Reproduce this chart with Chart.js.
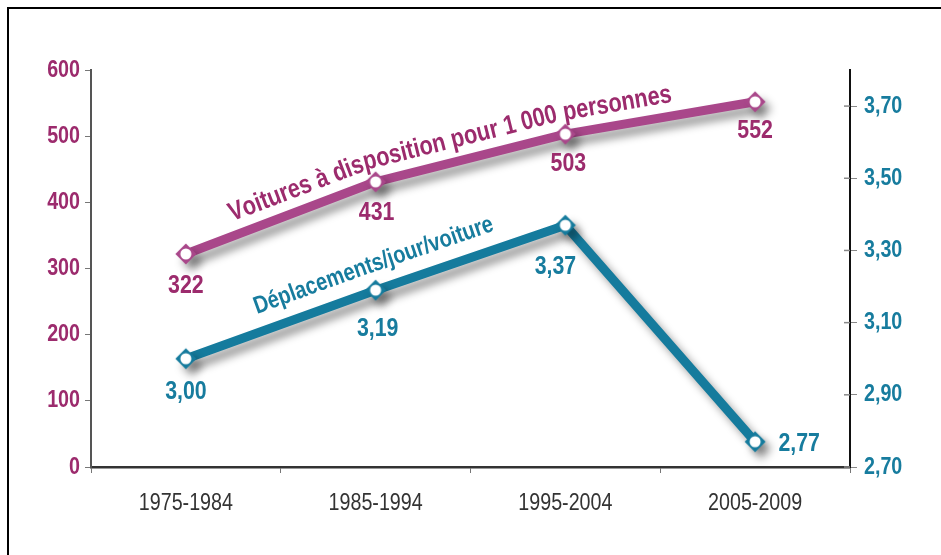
<!DOCTYPE html>
<html>
<head>
<meta charset="utf-8">
<script src="https://cdn.jsdelivr.net/npm/chart.js@4.4.1/dist/chart.umd.min.js"></script>
<style>
  body { margin: 0; background: #fff; }
  #wrap { position: relative; width: 941px; height: 555px; }
  #frame { position: absolute; left: 7px; top: 7px; right: 0; bottom: 0;
           border-top: 2px solid #000; border-left: 2px solid #000; pointer-events: none; }
</style>
</head>
<body>
<div id="wrap">
  <canvas id="chart" width="941" height="555"></canvas>
  <div id="frame"></div>
</div>
<script>
// ---------- data ----------
const categories = ["1975-1984", "1985-1994", "1995-2004", "2005-2009"];
const voitures = [322, 431, 503, 552];
const deplacements = [3.00, 3.19, 3.37, 2.77];
const seriesNames = ["Voitures à disposition pour 1 000 personnes", "Déplacements/jour/voiture"];
const leftTicks = [0, 100, 200, 300, 400, 500, 600];
const rightTicks = [2.70, 2.90, 3.10, 3.30, 3.50, 3.70];
const rightMax = 3.80;

// ---------- style ----------
// no narrow font installed: Liberation Sans squeezed horizontally
const FONT = "'Liberation Sans', Arial, sans-serif";
const SX = 0.82;
const PURPLE = "#a9478a";
const PURPLE_TXT = "#9c2b6d";
const BLUE = "#157b9d";
const BLUE_TXT = "#177c9e";
const GREY_TXT = "#333";

Chart.defaults.font.family = FONT;

function frNum(v, d) {
  return v.toFixed(d).replace(".", ",");
}

function narrowText(ctx, text, x, y, align) {
  ctx.save();
  ctx.translate(x, y);
  ctx.scale(SX, 1);
  ctx.textAlign = align;
  ctx.fillText(text, 0, 0);
  ctx.restore();
}

function makeMarker(color) {
  const c = document.createElement("canvas");
  c.width = 24; c.height = 24;
  const g = c.getContext("2d");
  g.fillStyle = color;
  g.beginPath();
  g.moveTo(12, 1.5); g.lineTo(22.5, 12); g.lineTo(12, 22.5); g.lineTo(1.5, 12);
  g.closePath();
  g.fill();
  g.fillStyle = "#fff";
  g.beginPath();
  g.arc(12, 12, 5.5, 0, Math.PI * 2);
  g.fill();
  return c;
}

// polyline shifted "up" (left of travel direction) by off px, joined at line intersections
function offsetLine(pts, off) {
  const segs = [];
  for (let i = 0; i < pts.length - 1; i++) {
    const dx = pts[i + 1].x - pts[i].x, dy = pts[i + 1].y - pts[i].y;
    const len = Math.hypot(dx, dy);
    const ux = dx / len, uy = dy / len;
    segs.push({ x: pts[i].x + uy * off, y: pts[i].y - ux * off, ux, uy });
  }
  const out = [{ x: segs[0].x, y: segs[0].y }];
  for (let i = 1; i < segs.length; i++) {
    const a = segs[i - 1], b = segs[i];
    const den = a.ux * b.uy - a.uy * b.ux;
    const t = ((b.x - a.x) * b.uy - (b.y - a.y) * b.ux) / den;
    out.push({ x: a.x + a.ux * t, y: a.y + a.uy * t });
  }
  const last = segs[segs.length - 1], pe = pts[pts.length - 1];
  out.push({ x: pe.x + last.uy * off, y: pe.y - last.ux * off });
  return out;
}

// draw text char by char along a polyline
function textAlongLine(ctx, text, pts, start) {
  const segs = [];
  let total = 0;
  for (let i = 0; i < pts.length - 1; i++) {
    const dx = pts[i + 1].x - pts[i].x, dy = pts[i + 1].y - pts[i].y;
    const len = Math.hypot(dx, dy);
    segs.push({ x: pts[i].x, y: pts[i].y, dx: dx / len, dy: dy / len, len, from: total });
    total += len;
  }
  let d = start;
  for (const ch of text) {
    const w = ctx.measureText(ch).width * SX;
    const mid = d + w / 2;
    let s = segs[segs.length - 1];
    for (const sg of segs) { if (mid <= sg.from + sg.len) { s = sg; break; } }
    const t = mid - s.from;
    ctx.save();
    ctx.translate(s.x + s.dx * t, s.y + s.dy * t);
    ctx.rotate(Math.atan2(s.dy, s.dx));
    ctx.scale(SX, 1);
    ctx.fillText(ch, 0, 0);
    ctx.restore();
    d += w;
  }
}

const shadowPlugin = {
  id: "shadow",
  beforeDatasetDraw(chart) {
    const c = chart.ctx;
    c.save();
    c.shadowColor = "rgba(0,0,0,0.4)";
    c.shadowBlur = 8;
    c.shadowOffsetX = 6;
    c.shadowOffsetY = 7;
  },
  afterDatasetDraw(chart) {
    chart.ctx.restore();
  }
};

// tick labels, drawn narrow at the positions of the library's scales
const axisTextPlugin = {
  id: "axisText",
  afterDraw(chart) {
    const ctx = chart.ctx;
    const { x, y, y2 } = chart.scales;
    ctx.save();
    ctx.textBaseline = "middle";

    ctx.font = "24px " + FONT;
    ctx.fillStyle = GREY_TXT;
    x.ticks.forEach((t, i) => narrowText(ctx, categories[i], x.getPixelForTick(i), y.bottom + 36, "center"));

    ctx.font = "bold 24px " + FONT;
    ctx.fillStyle = PURPLE_TXT;
    y.ticks.forEach(t => narrowText(ctx, String(t.value), y.right - 11, y.getPixelForValue(t.value), "right"));

    ctx.fillStyle = BLUE_TXT;
    ctx.strokeStyle = "#888";
    ctx.lineWidth = 1.5;
    y2.ticks.forEach(t => {
      const py = y2.getPixelForValue(t.value);
      narrowText(ctx, frNum(t.value, 2), y2.left + 14, py, "left");
      ctx.beginPath();
      ctx.moveTo(y2.left - 6, py);
      ctx.lineTo(y2.left, py);
      ctx.stroke();
    });
    ctx.restore();
  }
};

const labelPlugin = {
  id: "labels",
  afterDatasetsDraw(chart) {
    const ctx = chart.ctx;
    const pPts = chart.getDatasetMeta(0).data.map(p => ({ x: p.x, y: p.y }));
    const bPts = chart.getDatasetMeta(1).data.map(p => ({ x: p.x, y: p.y }));

    // value labels
    const pOff = [[0, 32], [1, 31], [3, 30], [0, 29]];
    const bOff = [[0, 33], [2, 39], [-10, 42], [44, 2]];
    ctx.save();
    ctx.font = "bold 26px " + FONT;
    ctx.textBaseline = "middle";
    ctx.fillStyle = PURPLE_TXT;
    pPts.forEach((p, i) => narrowText(ctx, String(voitures[i]), p.x + pOff[i][0], p.y + pOff[i][1], "center"));
    ctx.fillStyle = BLUE_TXT;
    bPts.forEach((p, i) => narrowText(ctx, frNum(deplacements[i], 2), p.x + bOff[i][0], p.y + bOff[i][1], "center"));

    // series names following the lines
    ctx.textAlign = "center";
    ctx.textBaseline = "alphabetic";
    ctx.font = "bold 26.5px " + FONT;
    ctx.fillStyle = PURPLE_TXT;
    textAlongLine(ctx, seriesNames[0], offsetLine(pPts, 14), 55);
    ctx.font = "bold 24.5px " + FONT;
    ctx.fillStyle = BLUE_TXT;
    textAlongLine(ctx, seriesNames[1], offsetLine(bPts.slice(0, 3), 18), 82);
    ctx.restore();
  }
};

new Chart(document.getElementById("chart"), {
  type: "line",
  data: {
    labels: categories,
    datasets: [
      {
        label: seriesNames[0],
        data: voitures,
        yAxisID: "y",
        borderColor: PURPLE,
        borderWidth: 9,
        borderJoinStyle: "round",
        pointStyle: makeMarker(PURPLE),
        tension: 0
      },
      {
        label: seriesNames[1],
        data: deplacements,
        yAxisID: "y2",
        borderColor: BLUE,
        borderWidth: 9,
        borderJoinStyle: "round",
        pointStyle: makeMarker(BLUE),
        tension: 0
      }
    ]
  },
  options: {
    responsive: false,
    animation: false,
    layout: { padding: { top: 70, left: 0, right: 0, bottom: 0 } },
    plugins: { legend: { display: false }, tooltip: { enabled: false } },
    scales: {
      x: {
        offset: true,
        afterFit: s => { s.height = 88; },
        border: { display: true, color: "#333", width: 2.5 },
        grid: { drawOnChartArea: false, drawTicks: true, tickLength: 6, color: "#777", offset: true },
        ticks: { color: "rgba(0,0,0,0)", font: { size: 24 } }
      },
      y: {
        position: "left",
        min: leftTicks[0],
        max: leftTicks[leftTicks.length - 1],
        afterFit: s => { s.width = 91; },
        afterBuildTicks: s => { s.ticks = leftTicks.map(v => ({ value: v })); },
        border: { display: true, color: "#555", width: 2 },
        grid: { drawOnChartArea: false, drawTicks: true, tickLength: 6, color: "#777" },
        ticks: { color: "rgba(0,0,0,0)", font: { size: 24 } }
      },
      y2: {
        position: "right",
        min: rightTicks[0],
        max: rightMax,
        afterFit: s => { s.width = 91; },
        afterBuildTicks: s => { s.ticks = rightTicks.map(v => ({ value: v })); },
        border: { display: true, color: "#111", width: 2 },
        grid: { drawOnChartArea: false, drawTicks: true, tickLength: 7, color: "#888" },
        ticks: { color: "rgba(0,0,0,0)", font: { size: 24 } }
      }
    }
  },
  plugins: [shadowPlugin, labelPlugin, axisTextPlugin]
});
</script>
</body>
</html>
